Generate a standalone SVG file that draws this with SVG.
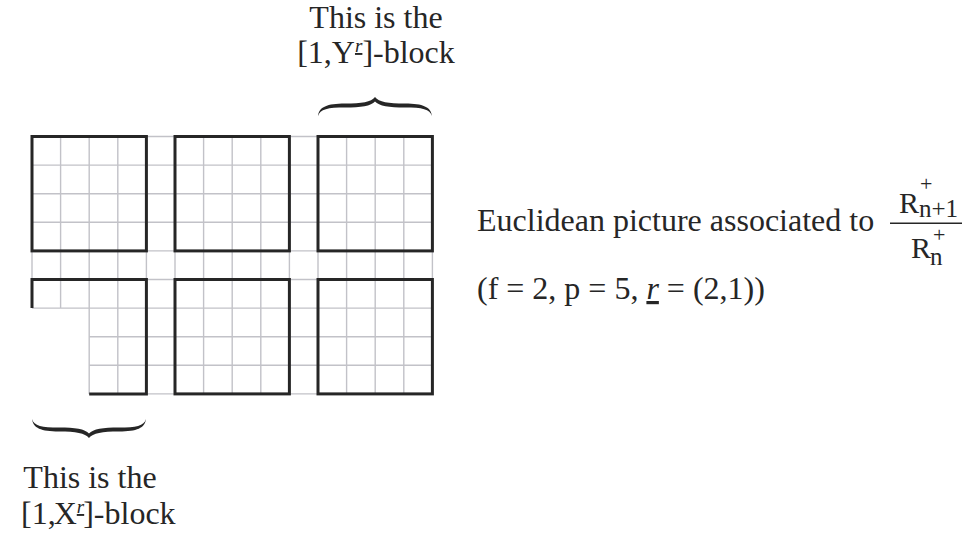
<svg xmlns="http://www.w3.org/2000/svg" width="966" height="535" viewBox="0 0 966 535">
<style>
  .thin { stroke: #c2c2c8; stroke-width: 1.4; fill: none; }
  .thick { stroke: #262626; stroke-width: 3; fill: none; stroke-linecap: square; }
  .t { font-family: "Liberation Serif", "Times New Roman", serif; fill: #262626; font-size: 32px; }
  .c { text-anchor: middle; }
  .brace { fill: #262626; }
  .sup { font-size: 19px; font-style: italic; text-decoration: underline; }
  .fr { font-size: 30px; }
  .fsub { font-size: 25px; }
  .fsup { font-size: 22px; }
</style>
<defs>
  <path id="bracePath" class="brace" d="M0,0 C1,-9 9,-12.5 27,-12.5 C44,-12.5 53,-14 57,-19 C61,-14 70,-12.5 87,-12.5 C105,-12.5 113,-9 114,0 C112,-7 104,-8.5 87,-8.5 C71,-8.5 61,-10 57,-14.5 C53,-10 43,-8.5 27,-8.5 C10,-8.5 2,-7 0,0 Z"/>
</defs>

<g id="grid" class="thin">
  <path d="M32,136.5V308.1 M60.6,136.5V308.1 M89.2,136.5V393.9 M117.8,136.5V393.9 M146.4,136.5V393.9 M175,136.5V393.9 M203.6,136.5V393.9 M232.2,136.5V393.9 M260.8,136.5V393.9 M289.4,136.5V393.9 M318,136.5V393.9 M346.6,136.5V393.9 M375.2,136.5V393.9 M403.8,136.5V393.9 M432.4,136.5V393.9"/>
  <path d="M32,136.5H432.4 M32,165.1H432.4 M32,193.7H432.4 M32,222.3H432.4 M32,250.9H432.4 M32,279.5H432.4 M32,308.1H432.4 M89.2,336.7H432.4 M89.2,365.3H432.4 M89.2,393.9H432.4"/>
</g>

<g id="blocks" class="thick">
  <g id="block-1-1"><rect x="32" y="136.5" width="114.4" height="114.4"/></g>
  <g id="block-1-2"><rect x="175" y="136.5" width="114.4" height="114.4"/></g>
  <g id="block-1-3"><rect x="318" y="136.5" width="114.4" height="114.4"/></g>
  <g id="block-2-1"><path d="M32,308.1V279.5H146.4V393.9H89.2" stroke-linecap="butt"/></g>
  <g id="block-2-2"><rect x="175" y="279.5" width="114.4" height="114.4"/></g>
  <g id="block-2-3"><rect x="318" y="279.5" width="114.4" height="114.4"/></g>
</g>

<g id="connectors">
  <use id="brace-top" href="#bracePath" transform="translate(318,116)"/>
  <use id="brace-bottom" href="#bracePath" transform="translate(32,419) scale(1,-1)"/>
</g>

<g id="label-top">
  <text class="t c" x="376" y="28">This is the</text>
  <text class="t c" x="376" y="63">[1,Y<tspan class="sup" dy="-11">r</tspan><tspan dy="11">]-block</tspan></text>
</g>

<g id="label-bottom">
  <text class="t c" x="90" y="488">This is the</text>
  <text class="t" x="21" y="524">[1,<tspan dx="-2">X</tspan><tspan class="sup" dy="-11">r</tspan><tspan dx="-1" dy="11">]-block</tspan></text>
</g>

<g id="caption">
  <text class="t" x="477" y="231">Euclidean picture associated to</text>
  <text class="t" x="477" y="299">(f = 2, p = 5, <tspan font-style="italic" text-decoration="underline">r</tspan> = (2,1))</text>
</g>

<g id="fraction">
  <line x1="890" y1="223.3" x2="962" y2="223.3" stroke="#262626" stroke-width="1.6"/>
  <text class="t fr" x="899" y="213">R<tspan class="fsup" x="920" y="191">+</tspan><tspan class="fsub" x="919" y="217">n+1</tspan></text>
  <text class="t fr" x="911" y="258">R<tspan class="fsup" x="933" y="242">+</tspan><tspan class="fsub" x="930" y="265">n</tspan></text>
</g>
</svg>
